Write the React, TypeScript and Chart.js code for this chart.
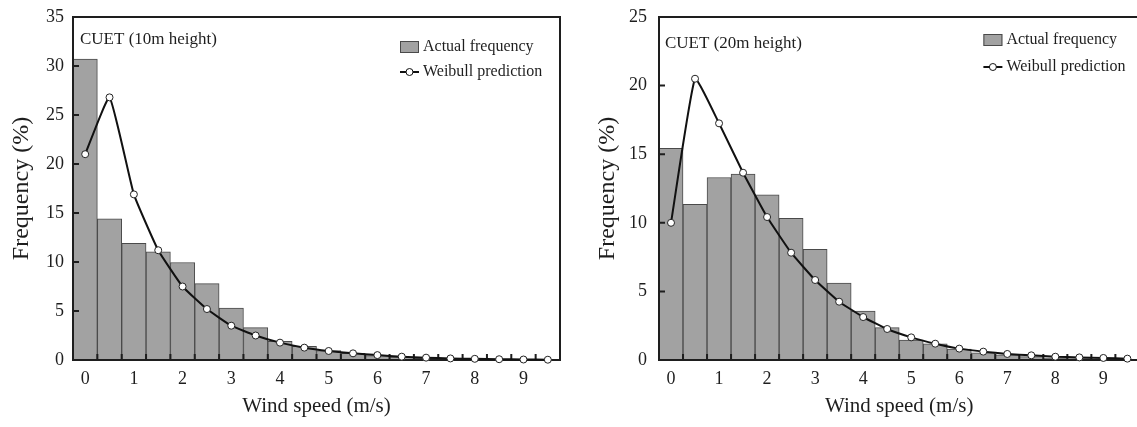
import React, { useEffect, useRef } from 'react';
import { Chart, registerables } from 'chart.js';

Chart.register(...registerables);

// Wind speed bins (0.5 m/s wide); only whole numbers are labelled.
const speedLabels = ['0', '', '1', '', '2', '', '3', '', '4', '', '5', '', '6', '', '7', '', '8', '', '9', ''];

// 10 m height
const actual10m = [30.7, 14.4, 11.9, 11.05, 9.95, 7.8, 5.3, 3.3, 1.9, 1.4, 0.95, 0.68, 0.44, 0.3, 0.16, 0.1, 0.06, 0.04, 0.02, 0.01];
const weibull10m = [21.0, 26.8, 16.9, 11.2, 7.5, 5.2, 3.5, 2.5, 1.77, 1.26, 0.92, 0.68, 0.5, 0.34, 0.24, 0.16, 0.12, 0.08, 0.05, 0.03];

// 20 m height
const actual20m = [15.43, 11.35, 13.3, 13.56, 12.03, 10.33, 8.07, 5.61, 3.57, 2.36, 1.46, 1.17, 0.8, 0.53, 0.38, 0.25, 0.15, 0.1, 0.06, 0.03];
const weibull20m = [10.0, 20.5, 17.25, 13.65, 10.42, 7.82, 5.83, 4.25, 3.13, 2.26, 1.65, 1.19, 0.83, 0.61, 0.44, 0.34, 0.24, 0.19, 0.15, 0.1];

const seriesNames = ['Actual frequency', 'Weibull prediction'];

const FONT = "'Liberation Serif', 'Times New Roman', serif";
const INK = '#1e1e1e';
const BAR_FILL = '#a2a2a2';
const BAR_EDGE = '#4a4a4a';

type Decor = {
  caption: string;
  captionDx: number;
  captionDy: number;
  legendDx: number;
  legendDy: number;
  legendRow: number;
};

// Frame, inward tick marks, caption and the in-plot legend.
const panelDecor = {
  id: 'panelDecor',
  afterDatasetDraw(chart: any, args: any) {
    if (args.index !== 0) return; // right after the bars, before the curve
    const { ctx, chartArea } = chart;
    const { left, right, top, bottom } = chartArea;
    const xs = chart.scales.x;
    const ys = chart.scales.y;
    ctx.save();
    ctx.strokeStyle = INK;
    ctx.lineWidth = 2;
    ctx.strokeRect(left, top, right - left, bottom - top);
    ctx.beginPath();
    const n = chart.data.labels.length;
    for (let i = 0; i < n - 1; i++) {
      const x = (xs.getPixelForValue(i) + xs.getPixelForValue(i + 1)) / 2;
      ctx.moveTo(x, bottom);
      ctx.lineTo(x, bottom - 6);
    }
    ys.ticks.forEach((t: any) => {
      if (t.value > ys.min && t.value < ys.max) {
        const y = ys.getPixelForValue(t.value);
        ctx.moveTo(left, y);
        ctx.lineTo(left + 6, y);
      }
    });
    ctx.stroke();
    ctx.restore();
  },
  afterDraw(chart: any, _args: any, opts: Decor) {
    const { ctx, chartArea } = chart;
    const { left, right, top } = chartArea;
    ctx.save();
    ctx.fillStyle = INK;
    ctx.textBaseline = 'middle';
    ctx.textAlign = 'left';
    ctx.font = `17px ${FONT}`;
    ctx.fillText(opts.caption, left + opts.captionDx, top + opts.captionDy);

    const lx = right + opts.legendDx;
    const y1 = top + opts.legendDy;
    const y2 = y1 + opts.legendRow;
    const bar = chart.data.datasets[0];
    const line = chart.data.datasets[1];
    // bar swatch
    ctx.fillStyle = bar.backgroundColor;
    ctx.fillRect(lx, y1 - 6, 19, 12);
    ctx.strokeStyle = bar.borderColor;
    ctx.lineWidth = 1;
    ctx.strokeRect(lx + 0.5, y1 - 5.5, 18, 11);
    // line + marker swatch
    ctx.strokeStyle = line.borderColor;
    ctx.lineWidth = 2;
    ctx.beginPath();
    ctx.moveTo(lx, y2);
    ctx.lineTo(lx + 19, y2);
    ctx.stroke();
    ctx.beginPath();
    ctx.arc(lx + 9.5, y2, 3.5, 0, Math.PI * 2);
    ctx.fillStyle = '#ffffff';
    ctx.fill();
    ctx.lineWidth = 1;
    ctx.stroke();
    ctx.fillStyle = INK;
    ctx.font = `16px ${FONT}`;
    ctx.fillText(bar.label, lx + 23, y1);
    ctx.fillText(line.label, lx + 23, y2);
    ctx.restore();
  },
};

type PanelProps = {
  left: number;
  width: number;
  actual: number[];
  weibull: number[];
  yMax: number;
  axisWidth: number;
  padRight: number;
  titlePad: number;
  tickPad: number;
  decor: Decor;
};

function Panel(p: PanelProps) {
  const ref = useRef<HTMLCanvasElement>(null);
  useEffect(() => {
    if (!ref.current) return;
    const chart = new Chart(ref.current, {
      type: 'bar',
      data: {
        labels: speedLabels,
        datasets: [
          {
            type: 'bar',
            label: seriesNames[0],
            data: p.actual,
            backgroundColor: BAR_FILL,
            borderColor: BAR_EDGE,
            borderWidth: 1,
            barPercentage: 1,
            categoryPercentage: 1,
            order: 1,
          },
          {
            type: 'line',
            label: seriesNames[1],
            data: p.weibull,
            borderColor: '#111111',
            borderWidth: 2,
            tension: 0.12,
            pointRadius: 3.5,
            pointBackgroundColor: '#ffffff',
            pointBorderColor: '#222222',
            pointBorderWidth: 1,
            clip: false,
            order: 0,
          } as any,
        ],
      },
      options: {
        responsive: false,
        animation: false,
        events: [],
        layout: { padding: { left: 0, top: 17, right: p.padRight, bottom: 0 } },
        plugins: {
          legend: { display: false },
          tooltip: { enabled: false },
          panelDecor: p.decor,
        } as any,
        scales: {
          x: {
            type: 'category',
            offset: true,
            grid: { display: false, drawTicks: false },
            border: { display: false },
            ticks: {
              autoSkip: false,
              maxRotation: 0,
              padding: 8,
              color: INK,
              font: { family: FONT, size: 18 },
            },
            title: {
              display: true,
              text: 'Wind speed (m/s)',
              color: INK,
              font: { family: FONT, size: 21 },
              padding: { top: 0, bottom: 8 },
            },
            afterFit: (s: any) => {
              s.height = 67;
            },
          },
          y: {
            min: 0,
            max: p.yMax,
            grid: { display: false, drawTicks: false },
            border: { display: false },
            ticks: {
              stepSize: 5,
              padding: p.tickPad,
              color: INK,
              // compact line height keeps the top label from pushing the plot down
              font: { family: FONT, size: 18, lineHeight: 0.5 },
            },
            title: {
              display: true,
              text: 'Frequency (%)',
              color: INK,
              font: { family: FONT, size: 24 },
              padding: { top: p.titlePad, bottom: 0 },
            },
            afterFit: (s: any) => {
              s.width = p.axisWidth;
            },
          },
        },
      },
      plugins: [panelDecor as any],
    });
    return () => chart.destroy();
  }, []);
  return (
    <canvas
      ref={ref}
      width={p.width}
      height={427}
      style={{ position: 'absolute', left: p.left, top: 0, width: p.width, height: 427 }}
    />
  );
}

export default function App() {
  return (
    <div
      style={{
        position: 'absolute',
        left: 0,
        top: 0,
        width: 1137,
        height: 427,
        overflow: 'hidden',
        background: '#ffffff',
      }}
    >
      <Panel
        left={0}
        width={575}
        actual={actual10m}
        weibull={weibull10m}
        yMax={35}
        axisWidth={73}
        padRight={15}
        titlePad={7.5}
        tickPad={9}
        decor={{
          caption: 'CUET (10m height)',
          captionDx: 7,
          captionDy: 23,
          legendDx: -160,
          legendDy: 30,
          legendRow: 25,
        }}
      />
      <Panel
        left={575}
        width={575}
        actual={actual20m}
        weibull={weibull20m}
        yMax={25}
        axisWidth={84}
        padRight={10.6}
        titlePad={18}
        tickPad={12}
        decor={{
          caption: 'CUET (20m height)',
          captionDx: 6,
          captionDy: 27,
          legendDx: -156,
          legendDy: 23,
          legendRow: 27,
        }}
      />
    </div>
  );
}
